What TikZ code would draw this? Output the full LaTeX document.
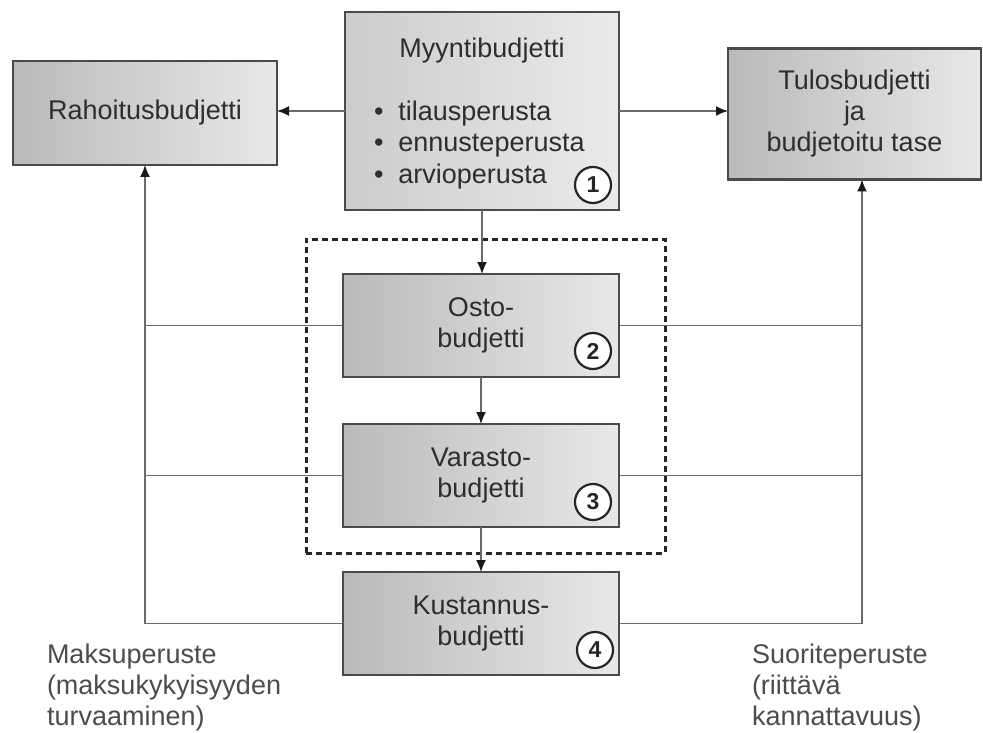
\documentclass[tikz,border=0pt]{standalone}
\usepackage{fontspec}
\setmainfont{Liberation Sans}
\usetikzlibrary{arrows.meta,shapes.geometric}
\definecolor{txt}{HTML}{2E2E2E}
\definecolor{edge}{HTML}{4A4A4A}
\definecolor{conncol}{HTML}{6A6A6A}
\begin{document}
\begin{tikzpicture}[x=1pt,y=-1pt,
  box/.style={rectangle,draw=edge,line width=2.4pt,left color=black!27,right color=black!9,
    inner sep=0pt,outer sep=0pt,align=center,text=txt,
    font=\fontsize{27}{31}\selectfont},
  lbl/.style={text=txt,font=\fontsize{27}{31}\selectfont,inner sep=0pt,outer sep=0pt},
  numc/.style={circle,draw=black!85,line width=2.2pt,fill=white,minimum size=36pt,inner sep=0pt,
    font=\fontsize{23}{25}\selectfont\bfseries,text=black!85},
  conn/.style={draw=conncol,line width=1.5pt},
  arr/.style={conn,-{Latex[length=12pt,width=10pt,color=black!90]}},
  dashbox/.style={rectangle,draw=black!85,line width=3pt,dash pattern=on 6pt off 4pt,
    inner sep=0pt,outer sep=0pt}]
\useasboundingbox (0,0) rectangle (983,733);

% dashed group
\node[dashbox,minimum width=359pt,minimum height=314pt] (grp) at (485.5,396) {};

% boxes
\node[box,minimum width=264pt,minimum height=104pt] (R) at (145,113) {Rahoitusbudjetti};
\node[box,minimum width=274pt,minimum height=198pt,left color=black!20,right color=black!8] (M) at (482,111) {};
\node[box,minimum width=253pt,minimum height=131pt] (T) at (854.5,114) {Tulosbudjetti\\ja\\budjetoitu tase};
\node[box,minimum width=276pt,minimum height=103pt] (O) at (481,325.5) {Osto-\\budjetti};
\node[box,minimum width=276pt,minimum height=103pt] (V) at (481,475.5) {Varasto-\\budjetti};
\node[box,minimum width=276pt,minimum height=103pt] (K) at (481,623.5) {Kustannus-\\budjetti};

% Myynti contents
\node[lbl,anchor=base] (mt) at (482,58) {Myyntibudjetti};
\node[lbl,anchor=base west,align=left] (ml) at (374,183)
  {•\hspace{15pt}tilausperusta\\[0.5pt]•\hspace{15pt}ennusteperusta\\[0.5pt]•\hspace{15pt}arvioperusta};

% numbers
\node[numc] (c1) at (593,185) {1};
\node[numc] (c2) at (593,351) {2};
\node[numc] (c3) at (593,502) {3};
\node[numc] (c4) at (595,650) {4};

% bottom labels
\node[lbl,anchor=base west,align=left,text=black!70] (lm) at (47,725)
  {Maksuperuste\\(maksukykyisyyden\\turvaaminen)};
\node[lbl,anchor=base west,align=left,text=black!70] (ls) at (752,725)
  {Suoriteperuste\\(riittävä\\kannattavuus)};

% connectors
\coordinate (lb) at (145,623.5);
\coordinate (rb) at (862,623.5);
\draw[arr] (M.west) -- (M.west -| R.east);
\draw[arr] (M.east) -- (M.east -| T.west);
\draw[arr] (M.south) -- (M.south |- O.north);
\draw[arr] (O.south) -- (V.north);
\draw[arr] (V.south) -- (K.north);
\draw[arr] (K.west) -- (lb) -- (lb |- R.south);
\draw[arr] (K.east) -- (rb) -- (rb |- T.south);
\draw[conn] (O.west) -- (O.west -| lb);
\draw[conn] (O.east) -- (O.east -| rb);
\draw[conn] (V.west) -- (V.west -| lb);
\draw[conn] (V.east) -- (V.east -| rb);
\end{tikzpicture}
\end{document}
